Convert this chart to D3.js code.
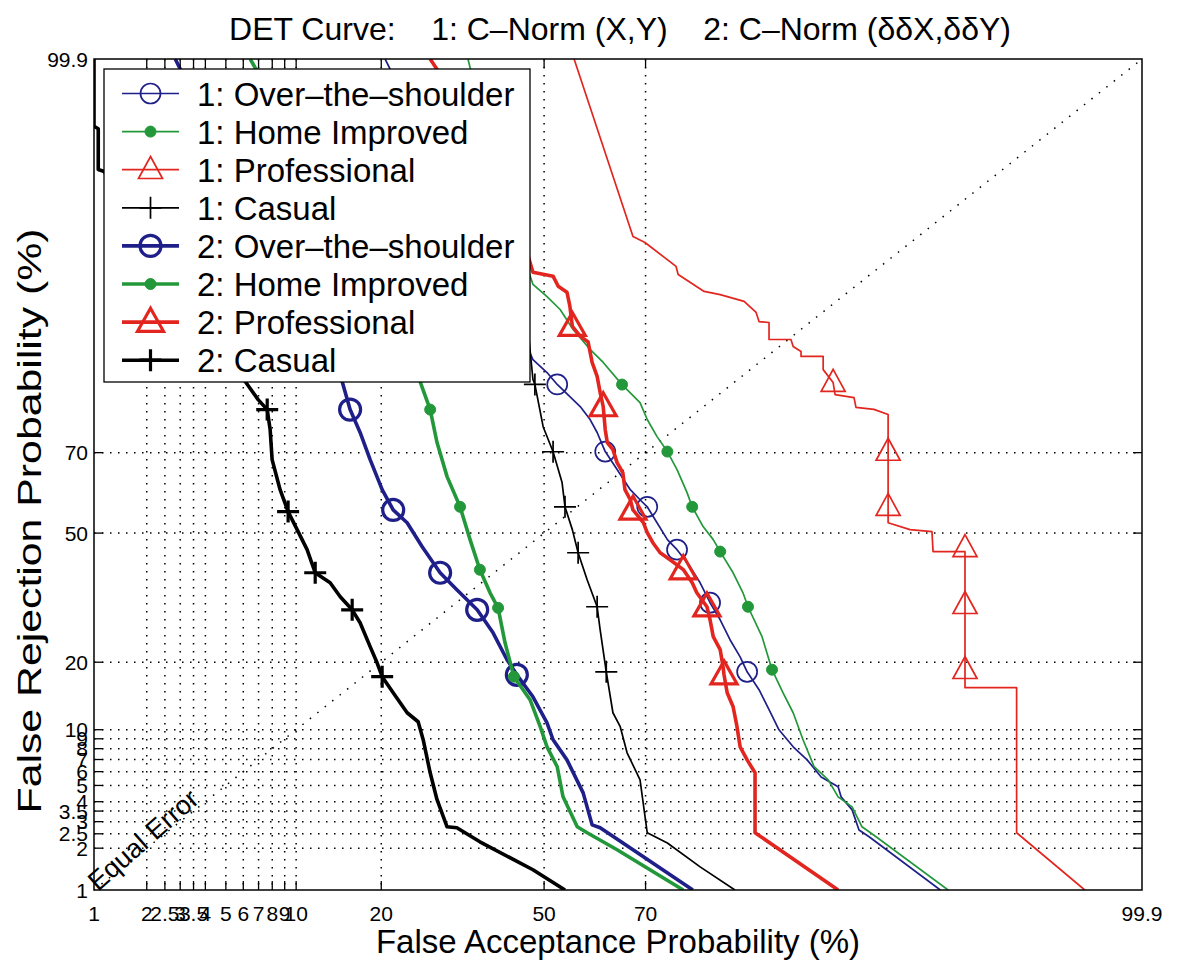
<!DOCTYPE html>
<html>
<head>
<meta charset="utf-8">
<script src="https://cdn.jsdelivr.net/npm/d3@7"></script>
<style>
  body { margin: 0; background: #fff; }
  text { font-family: "Liberation Sans", Arial, Helvetica, sans-serif; fill: #000; }
</style>
</head>
<body>
<svg id="chart" width="1182" height="969"></svg>
<script>
// ---- axis ticks (percent) ----
var tickVals   = [1, 2, 2.5, 3, 3.5, 4, 5, 6, 7, 8, 9, 10, 20, 50, 70, 99.9];
var tickLabels = ["1", "2", "2.5", "3", "3.5", "4", "5", "6", "7", "8", "9", "10", "20", "50", "70", "99.9"];
var gridVals   = [2, 2.5, 3, 3.5, 4, 5, 6, 7, 8, 9, 10, 20, 50, 70];

// ---- series: false acceptance (%) / false rejection (%) ----
// 1: Over-the-shoulder
var fa_ots1 = [20.56, 27.8, 37.0, 44.0, 47.7, 50.6, 52.7, 55.3, 57.4, 59.4, 60.8, 62.4, 64.7, 67.2, 69.0, 70.3, 72.03, 73.8, 75.4, 77.5, 79.0, 80.45, 81.86, 83.17, 84.45, 85.3, 86.67, 87.75, 88.76, 90.1, 91.3, 92.39, 93.57, 93.76, 94.43, 94.82, 95.35, 97.97];
var fr_ots1 = [99.9, 99.38, 96.78, 91.81, 87.1, 85.24, 83.37, 81.33, 79.53, 77.04, 74.4, 70.24, 66.06, 61.14, 58.6, 56.8, 52.7, 48.3, 45.7, 41.3, 37.3, 32.5, 28.6, 24.35, 21.0, 18.3, 15.37, 12.48, 9.99, 8.18, 6.97, 5.6, 4.91, 4.28, 3.56, 2.65, 2.39, 1.0];
var mfa_ots1 = [52.7, 62.4, 70.3, 75.4, 80.45, 85.3];
var mfr_ots1 = [83.37, 70.24, 56.8, 45.7, 32.5, 18.3];

// 1: Home Improved
var fa_hi1 = [34.7, 39.0, 44.0, 47.7, 50.6, 53.3, 55.96, 59.4, 62.0, 65.65, 69.0, 70.3, 72.03, 73.8, 75.4, 77.0, 77.8, 79.44, 80.9, 81.86, 83.57, 84.8, 85.4, 87.0, 88.06, 89.16, 90.1, 90.96, 91.86, 92.9, 93.57, 94.43, 94.98, 95.69, 98.16];
var fr_hi1 = [99.9, 99.38, 97.61, 94.75, 93.84, 92.75, 90.77, 88.45, 86.7, 83.35, 80.26, 77.04, 73.53, 70.24, 66.06, 60.4, 56.8, 51.7, 48.3, 45.2, 39.8, 34.86, 31.56, 24.98, 18.66, 14.9, 12.08, 8.9, 6.39, 5.39, 4.28, 3.72, 2.78, 2.39, 1.0];
var mfa_hi1 = [65.65, 73.8, 77.8, 81.86, 85.4, 88.06];
var mfr_hi1 = [83.35, 70.24, 56.8, 45.2, 31.56, 18.66];

// 1: Professional
var fa_pro1 = [56.16, 67.7, 69.9, 75.24, 75.58, 79.59, 81.86, 84.94, 86.34, 86.67, 87.75, 87.75, 89.9, 90.1, 90.79, 90.79, 92.54, 92.54, 93.24, 93.37, 94.54, 94.65, 95.59, 96.23, 96.23, 97.07, 97.75, 97.78, 98.52, 98.52, 99.27, 99.27, 99.74];
var fr_pro1 = [99.9, 97.34, 97.09, 95.89, 95.41, 94.24, 94.0, 93.45, 92.48, 91.6, 91.51, 89.65, 89.65, 88.8, 88.18, 87.52, 87.52, 85.67, 83.67, 81.67, 81.15, 79.37, 79.0, 78.03, 52.7, 50.9, 50.36, 45.2, 45.2, 15.68, 15.68, 2.54, 1.0];
var mfa_pro1 = [93.24, 96.23, 96.23, 98.52, 98.52, 98.52];
var mfr_pro1 = [83.67, 70.27, 56.85, 46.2, 32.03, 18.66];

// 1: Casual
var fa_cas1 = [41.0, 44.0, 46.1, 47.7, 48.1, 49.8, 51.85, 53.7, 54.3, 55.8, 56.98, 58.8, 60.8, 61.4, 62.6, 63.9, 65.3, 66.6, 69.0, 70.3, 73.8, 79.0, 83.8];
var fr_cas1 = [99.77, 98.52, 93.6, 84.16, 83.37, 75.6, 70.2, 62.9, 56.8, 50.9, 44.9, 38.06, 31.56, 26.43, 18.3, 12.08, 10.35, 7.61, 5.39, 2.54, 2.17, 1.48, 1.0];
var mfa_cas1 = [48.1, 51.85, 54.3, 56.98, 60.8, 62.6];
var mfr_cas1 = [83.37, 70.2, 56.8, 44.9, 31.56, 18.3];

// 2: Over-the-shoulder
var fa_ots2 = [2.83, 4.22, 6.44, 9.46, 12.35, 14.83, 15.8, 17.08, 18.43, 20.13, 21.77, 23.95, 26.43, 29.55, 32.6, 36.47, 39.6, 42.4, 44.4, 47.7, 50.6, 51.85, 54.7, 58.0, 59.8, 61.4, 67.7, 77.9];
var fr_ots2 = [99.9, 99.57, 98.52, 95.08, 89.65, 83.84, 78.96, 74.4, 68.4, 61.14, 56.0, 52.7, 46.45, 39.8, 35.6, 30.85, 25.78, 20.45, 17.78, 14.3, 10.8, 8.9, 6.97, 4.52, 2.86, 2.74, 1.95, 1.0];
var mfa_ots2 = [15.8, 21.77, 29.55, 36.47, 44.4];
var mfr_ots2 = [78.96, 56.0, 39.8, 30.85, 17.78];

// 2: Home Improved
var fa_hi2 = [6.44, 9.46, 14.6, 20.56, 26.08, 27.8, 29.0, 30.8, 33.2, 35.1, 37.0, 39.0, 40.6, 42.0, 43.8, 47.1, 49.2, 50.6, 52.7, 53.9, 56.8, 58.8, 64.7, 76.4];
var fr_hi2 = [99.9, 99.57, 97.95, 92.75, 83.84, 78.96, 72.24, 64.36, 56.8, 48.3, 40.56, 34.86, 31.3, 23.73, 17.46, 13.87, 10.35, 8.18, 6.39, 4.28, 2.78, 2.54, 1.95, 1.0];
var mfa_hi2 = [27.8, 33.2, 37.0, 40.6, 43.8];
var mfr_hi2 = [78.96, 56.8, 40.56, 31.3, 17.46];

// 2: Professional
var fa_pro2 = [27.8, 35.1, 41.0, 45.1, 47.7, 51.85, 52.9, 54.7, 55.3, 55.8, 57.4, 59.0, 59.8, 60.8, 61.4, 62.0, 62.4, 62.8, 63.9, 64.7, 65.8, 66.2, 67.2, 67.7, 69.6, 70.3, 71.3, 72.57, 74.25, 76.4, 77.8, 78.5, 80.0, 80.45, 80.9, 81.86, 82.25, 82.38, 82.8, 83.57, 84.06, 84.45, 85.3, 86.22, 86.22, 93.57];
var fr_pro2 = [99.9, 99.65, 98.94, 97.61, 95.54, 95.3, 94.62, 94.18, 93.04, 91.12, 90.04, 89.35, 86.7, 84.66, 82.01, 79.53, 74.99, 72.24, 70.68, 67.7, 65.3, 61.14, 58.6, 56.0, 52.7, 50.1, 47.5, 44.9, 43.1, 40.6, 37.3, 34.86, 31.56, 28.6, 24.98, 22.37, 19.19, 17.8, 14.9, 12.88, 10.35, 8.18, 6.97, 5.91, 2.54, 1.0];
var mfa_pro2 = [55.8, 62.0, 67.7, 76.4, 80.0, 82.38];
var mfr_pro2 = [91.12, 79.53, 56.0, 40.6, 31.56, 17.8];

// 2: Casual
var fa_cas2 = [1.0, 1.0, 1.06, 1.06, 1.15, 2.09, 3.77, 6.12, 6.97, 7.62, 7.84, 7.99, 8.62, 9.29, 10.09, 11.03, 11.84, 13.44, 14.6, 16.06, 17.08, 18.43, 19.4, 20.13, 21.77, 23.95, 25.75, 26.6, 27.8, 29.0, 30.8, 32.6, 37.0, 47.7, 54.3];
var fr_cas2 = [99.9, 99.6, 99.58, 99.11, 99.08, 96.27, 91.79, 83.84, 80.79, 78.96, 74.99, 68.4, 61.14, 55.57, 50.9, 45.7, 39.8, 37.3, 33.9, 30.85, 27.96, 22.96, 19.9, 17.46, 14.9, 12.08, 10.94, 8.9, 5.91, 4.11, 2.78, 2.74, 2.21, 1.41, 1.0];
var mfa_cas2 = [7.62, 9.29, 11.84, 16.06, 20.13];
var mfr_cas2 = [78.96, 55.57, 39.8, 30.85, 17.46];

var legendLabels = ["1: Over\u2013the\u2013shoulder", "1: Home Improved", "1: Professional", "1: Casual",
                    "2: Over\u2013the\u2013shoulder", "2: Home Improved", "2: Professional", "2: Casual"];

var BLUE = "#1f1f8a", GREEN = "#23983a", RED = "#e2261f", BLACK = "#000";

var series = [
  { fa: fa_ots1, fr: fr_ots1, mfa: mfa_ots1, mfr: mfr_ots1, color: BLUE,  w: 1.7, mark: "circle" },
  { fa: fa_hi1,  fr: fr_hi1,  mfa: mfa_hi1,  mfr: mfr_hi1,  color: GREEN, w: 1.7, mark: "dot" },
  { fa: fa_pro1, fr: fr_pro1, mfa: mfa_pro1, mfr: mfr_pro1, color: RED,   w: 1.7, mark: "tri" },
  { fa: fa_cas1, fr: fr_cas1, mfa: mfa_cas1, mfr: mfr_cas1, color: BLACK, w: 1.7, mark: "plus" },
  { fa: fa_ots2, fr: fr_ots2, mfa: mfa_ots2, mfr: mfr_ots2, color: BLUE,  w: 3.6, mark: "circle" },
  { fa: fa_hi2,  fr: fr_hi2,  mfa: mfa_hi2,  mfr: mfr_hi2,  color: GREEN, w: 3.6, mark: "dot" },
  { fa: fa_pro2, fr: fr_pro2, mfa: mfa_pro2, mfr: mfr_pro2, color: RED,   w: 3.6, mark: "tri" },
  { fa: fa_cas2, fr: fr_cas2, mfa: mfa_cas2, mfr: mfr_cas2, color: BLACK, w: 3.6, mark: "plus" }
];
series.forEach(function(s, i) { s.label = legendLabels[i]; });

// inverse normal CDF (Acklam)
function probit(p) {
  var a = [-3.969683028665376e+01, 2.209460984245205e+02, -2.759285104469687e+02, 1.383577518672690e+02, -3.066479806614716e+01, 2.506628277459239e+00];
  var b = [-5.447609879822406e+01, 1.615858368580409e+02, -1.556989798598866e+02, 6.680131188771972e+01, -1.328068155288572e+01];
  var c = [-7.784894002430293e-03, -3.223964580411365e-01, -2.400758277161838e+00, -2.549732539343734e+00, 4.374664141464968e+00, 2.938163982698783e+00];
  var d = [7.784695709041462e-03, 3.224671290700398e-01, 2.445134137142996e+00, 3.754408661907416e+00];
  var plow = 0.02425, q, r;
  if (p < plow) {
    q = Math.sqrt(-2 * Math.log(p));
    return (((((c[0]*q+c[1])*q+c[2])*q+c[3])*q+c[4])*q+c[5]) / ((((d[0]*q+d[1])*q+d[2])*q+d[3])*q+1);
  }
  if (p <= 1 - plow) {
    q = p - 0.5; r = q * q;
    return (((((a[0]*r+a[1])*r+a[2])*r+a[3])*r+a[4])*r+a[5])*q / (((((b[0]*r+b[1])*r+b[2])*r+b[3])*r+b[4])*r+1);
  }
  q = Math.sqrt(-2 * Math.log(1 - p));
  return -(((((c[0]*q+c[1])*q+c[2])*q+c[3])*q+c[4])*q+c[5]) / ((((d[0]*q+d[1])*q+d[2])*q+d[3])*q+1);
}

var L = 94, R = 1142, T = 59, B = 890;

var xs = d3.scaleLinear().domain([probit(0.01), probit(0.999)]).range([L, R]);
var ys = d3.scaleLinear().domain([probit(0.01), probit(0.999)]).range([B, T]);
function X(p) { return xs(probit(p / 100)); }
function Y(p) { return ys(probit(p / 100)); }

var svg = d3.select("#chart");

svg.append("defs").append("clipPath").attr("id", "plotclip")
  .append("rect").attr("x", L).attr("y", T).attr("width", R - L).attr("height", B - T);

// grid
var grid = svg.append("g").attr("stroke", "#000").attr("stroke-width", 1.5)
  .attr("stroke-dasharray", "1.5,6.5").attr("fill", "none");
grid.selectAll(".vg").data(gridVals).enter().append("line")
  .attr("x1", function(d) { return X(d); }).attr("x2", function(d) { return X(d); })
  .attr("y1", T).attr("y2", B);
grid.selectAll(".hg").data(gridVals).enter().append("line")
  .attr("y1", function(d) { return Y(d); }).attr("y2", function(d) { return Y(d); })
  .attr("x1", L).attr("x2", R);

// equal error diagonal
var diag = [1, 99.9];
grid.append("line")
  .attr("x1", X(diag[0])).attr("y1", Y(diag[0]))
  .attr("x2", X(diag[1])).attr("y2", Y(diag[1]))
  .attr("stroke-dasharray", "1.5,8");

var ang = Math.atan2(Y(diag[0]) - Y(diag[1]), X(diag[1]) - X(diag[0])) * 180 / Math.PI;
svg.append("text")
  .attr("transform", "translate(" + (X(diag[0]) + 4) + "," + (Y(diag[0]) + 2) + ") rotate(" + (-ang - 3) + ")")
  .attr("font-size", 27)
  .text("Equal Error");

// curves
var plot = svg.append("g").attr("clip-path", "url(#plotclip)");
var line = d3.line().x(function(d) { return X(d[0]); }).y(function(d) { return Y(d[1]); });

function drawMarker(g, kind, x, y, color, thick) {
  var sw = thick ? 3.2 : 1.7;
  if (kind === "circle") {
    g.append("circle").attr("cx", x).attr("cy", y).attr("r", thick ? 10.5 : 10)
      .attr("fill", "none").attr("stroke", color).attr("stroke-width", sw);
  } else if (kind === "dot") {
    g.append("circle").attr("cx", x).attr("cy", y).attr("r", 5.5)
      .attr("fill", color).attr("stroke", color).attr("stroke-width", 1);
  } else if (kind === "tri") {
    var w = thick ? 13 : 12, h = thick ? 23 : 22;
    g.append("path")
      .attr("d", "M" + x + "," + (y - h * 0.6) + "L" + (x + w) + "," + (y + h * 0.4) + "L" + (x - w) + "," + (y + h * 0.4) + "Z")
      .attr("fill", "none").attr("stroke", color).attr("stroke-width", sw).attr("stroke-linejoin", "miter");
  } else if (kind === "plus") {
    var s = 11;
    g.append("path")
      .attr("d", "M" + (x - s) + "," + y + "H" + (x + s) + "M" + x + "," + (y - s) + "V" + (y + s))
      .attr("stroke", color).attr("stroke-width", sw).attr("fill", "none");
  }
}

series.forEach(function(s) {
  var pts = s.fa.map(function(v, i) { return [v, s.fr[i]]; });
  plot.append("path").datum(pts)
    .attr("d", line)
    .attr("fill", "none")
    .attr("stroke", s.color)
    .attr("stroke-width", s.w)
    .attr("stroke-linejoin", "round");
  s.mfa.forEach(function(v, i) {
    drawMarker(plot, s.mark, X(v), Y(s.mfr[i]), s.color, s.w > 2);
  });
});

// frame and ticks
svg.append("rect").attr("x", L).attr("y", T).attr("width", R - L).attr("height", B - T)
  .attr("fill", "none").attr("stroke", "#000").attr("stroke-width", 1.5);

var inner = tickVals.filter(function(d) { return d > 1 && d < 99.9; });
var tk = svg.append("g").attr("stroke", "#000").attr("stroke-width", 1.3);
inner.forEach(function(d) {
  tk.append("line").attr("x1", X(d)).attr("x2", X(d)).attr("y1", B).attr("y2", B - 9);
  tk.append("line").attr("x1", X(d)).attr("x2", X(d)).attr("y1", T).attr("y2", T + 9);
  tk.append("line").attr("y1", Y(d)).attr("y2", Y(d)).attr("x1", L).attr("x2", L + 9);
  tk.append("line").attr("y1", Y(d)).attr("y2", Y(d)).attr("x1", R).attr("x2", R - 9);
});

svg.append("g").selectAll("text").data(tickVals).enter().append("text")
  .attr("x", function(d) { return X(d); })
  .attr("y", B + 31)
  .attr("text-anchor", "middle")
  .attr("font-size", 21)
  .text(function(d, i) { return tickLabels[i]; });

svg.append("g").selectAll("text").data(tickVals).enter().append("text")
  .attr("x", L - 6)
  .attr("y", function(d) { return Y(d) + 7.5; })
  .attr("text-anchor", "end")
  .attr("font-size", 21)
  .text(function(d, i) { return tickLabels[i]; });

// titles
svg.append("text")
  .attr("x", 620).attr("y", 40)
  .attr("text-anchor", "middle")
  .attr("font-size", 32)
  .attr("xml:space", "preserve")
  .style("white-space", "pre")
  .text("DET Curve:    1: C\u2013Norm (X,Y)    2: C\u2013Norm (\u03b4\u03b4X,\u03b4\u03b4Y)");

svg.append("text")
  .attr("x", 618).attr("y", 953)
  .attr("text-anchor", "middle")
  .attr("font-size", 33)
  .text("False Acceptance Probability (%)");

svg.append("text")
  .attr("transform", "translate(41,521) rotate(-90)")
  .attr("text-anchor", "middle")
  .attr("font-size", 34)
  .attr("textLength", 585)
  .attr("lengthAdjust", "spacingAndGlyphs")
  .text("False Rejection Probability (%)");

// legend
var lg = svg.append("g");
lg.append("rect").attr("x", 104).attr("y", 69).attr("width", 426).attr("height", 313)
  .attr("fill", "#fff").attr("stroke", "#000").attr("stroke-width", 1.3);
series.forEach(function(s, i) {
  var cy = 93.5 + i * 38.1;
  lg.append("line").attr("x1", 122).attr("x2", 179).attr("y1", cy).attr("y2", cy)
    .attr("stroke", s.color).attr("stroke-width", s.w);
  drawMarker(lg, s.mark, 150.5, cy, s.color, s.w > 2);
  lg.append("text").attr("x", 197).attr("y", cy + 12).attr("font-size", 33).text(s.label);
});
</script>
</body>
</html>
